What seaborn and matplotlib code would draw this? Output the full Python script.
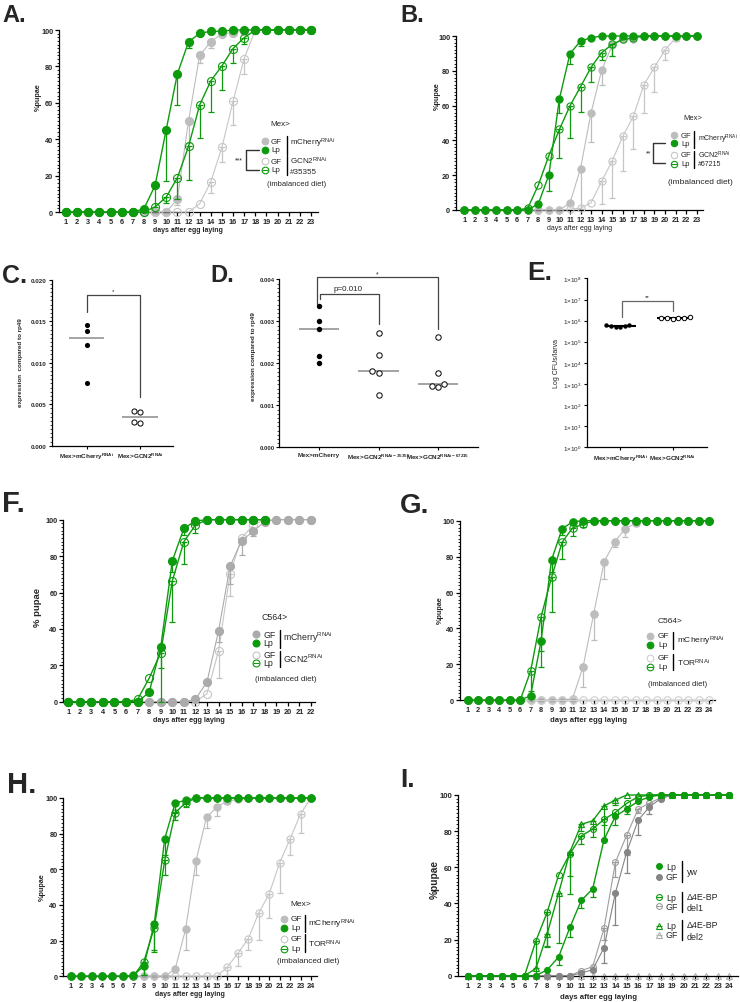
import numpy as np
import pandas as pd
import matplotlib
matplotlib.use("Agg")
import matplotlib.pyplot as plt
from matplotlib.lines import Line2D
from matplotlib.ticker import MultipleLocator, NullLocator
import seaborn as sns

nan = np.nan

# ---------------------------------------------------------------- data
days_A = list(range(1, 24))
A_gf_ctrl    = [0,0,0,0,0,0,0,0,0,0,7,50,86,93.5,98,98.5,99.5,100,100,100,100,100,100]
A_gf_ctrl_sd = [0,0,0,0,0,0,0,0,0,0,3,12,4,3.5,1.5,0,0,0,0,0,0,0,0]
A_lp_ctrl    = [0,0,0,0,0,0,0,1.8,14.6,45.3,75.9,93.4,98.2,99.3,99.3,100,100,100,100,100,100,100,100]
A_lp_ctrl_sd = [0,0,0,0,0,0,0,0,12,28.5,17,3.5,1.5,0,0,0,0,0,0,0,0,0,0]
A_gf_kd      = [0,0,0,0,0,0,0,0,0,0,0,0,4.5,16.5,35.5,60.8,84.3,100,100,100,100,100,100]
A_gf_kd_sd   = [0,0,0,0,0,0,0,0,0,0,0,0,0,6,7.8,13,8.3,0,0,0,0,0,0]
A_lp_kd      = [0,0,0,0,0,0,0,0,2.8,8.2,18.8,36,58.8,72,80.3,89.8,95.8,100,100,100,100,100,100]
A_lp_kd_sd   = [0,0,0,0,0,0,0,0,0,3.2,11.5,18.2,18.3,17.2,13.3,8,3.5,0,0,0,0,0,0]

days_B = list(range(1, 24))
B_gf_ctrl    = [0,0,0,0,0,0,0,0,0,0,4,23.8,56,80.3,94.6,98,98.5,100,100,100,100,100,100]
B_gf_ctrl_sd = [0,0,0,0,0,0,0,0,0,0,0,23,17,8.3,6,0,0,0,0,0,0,0,0]
B_lp_ctrl    = [0,0,0,0,0,0,0,3.5,20,63.8,89.8,97.1,99,100,100,100,100,100,100,100,100,100,100]
B_lp_ctrl_sd = [0,0,0,0,0,0,0,0,9,7.8,5.8,3,1.5,0,0,0,0,0,0,0,0,0,0]
B_gf_kd      = [0,0,0,0,0,0,0,0,0,0,0.5,1,4.2,16.5,28.2,42.3,53.8,72,82,92,98.8,100,100]
B_gf_kd_sd   = [0,0,0,0,0,0,0,0,0,0,0,0,0,13,21.2,19.8,18.8,16.2,14,6,1.5,0,0]
B_lp_kd      = [0,0,0,0,0,0,1,14.2,31.2,46.3,59.8,70.8,82,90.4,95.2,98,99,100,100,100,100,100,100]
B_lp_kd_sd   = [0,0,0,0,0,0,0,0,0,16.3,18.3,14.5,8.2,4.4,6.7,0,0,0,0,0,0,0,0]

C_groups = ["Mex>mCherry$^{RNAi}$", "Mex>GCN2$^{RNAi}$"]
C_ctrl = [0.0145, 0.0138, 0.0121, 0.0076]
C_kd = [0.0042, 0.0041, 0.0029, 0.0027]

D_groups = ["Mex>mCherry", "Mex>GCN2$^{RNAi-35355}$", "Mex>GCN2$^{RNAi-67215}$"]
D_ctrl = [0.00337, 0.00300, 0.00282, 0.00217, 0.00201]
D_kd1 = [0.00272, 0.00220, 0.00182, 0.00178, 0.00125]
D_kd2 = [0.00263, 0.00177, 0.00151, 0.00147, 0.00144]

E_groups = ["Mex>mCherry$^{RNAi}$", "Mex>GCN2$^{RNAi}$"]
E_ctrl = [5.2e5, 6.3e5, 5.8e5, 5.5e5, 5.9e5, 5.0e5]
E_kd = [1.30e6, 1.40e6, 1.35e6, 1.45e6, 1.30e6, 1.25e6]
E_ticks = [1, 10, 100, 1e3, 1e4, 1e5, 1e6, 1e7, 1e8]
E_ticklabels = ["1×10$^{%d}$" % k for k in range(9)]

days_F = list(range(1, 23))
F_gf_ctrl    = [0,0,0,0,0,0,0,0,0,0,0,1.3,10.8,38.8,74.4,88.5,93.6,99,100,100,100,100]
F_gf_ctrl_sd = [0,0,0,0,0,0,0,0,0,0,0,0,0,6,9.6,8,2.6,0,0,0,0,0]
F_lp_ctrl    = [0,0,0,0,0,0,0,5.1,30,77.3,95.2,99.3,100,100,100,100,100,100,nan,nan,nan,nan]
F_lp_ctrl_sd = [0,0,0,0,0,0,0,0,11.5,6,3.6,1,0,0,0,0,0,0,0,0,0,0]
F_gf_kd      = [0,0,0,0,0,0,0,0,0,0,0,0,4.4,27.8,70.3,90,97,100,100,100,100,100]
F_gf_kd_sd   = [0,0,0,0,0,0,0,0,0,0,0,0,0,15,12.4,1.5,0,0,0,0,0,0]
F_lp_kd      = [0,0,0,0,0,0,1.3,12.9,26.9,66.3,87.9,97,100,100,100,100,100,100,nan,nan,nan,nan]
F_lp_kd_sd   = [0,0,0,0,0,0,0,0,26.9,22.7,12.1,4.5,0,0,0,0,0,0,0,0,0,0]

days_G = list(range(1, 25))
G_gf_ctrl    = [0,0,0,0,0,0,0,0,0,0,1,18.7,47.9,77,88.1,95.5,98.5,100,100,100,100,100,100,100]
G_gf_ctrl_sd = [0,0,0,0,0,0,0,0,0,0,0,11.1,14.3,9.3,2.6,4.6,1,0,0,0,0,0,0,0]
G_lp_ctrl    = [0,0,0,0,0,0,2.6,33.2,78.3,95.5,99.4,100,100,100,100,100,100,100,100,100,100,100,100,100]
G_lp_ctrl_sd = [0,0,0,0,0,0,0,14.7,7,3.5,0,0,0,0,0,0,0,0,0,0,0,0,0,0]
G_gf_kd      = [0,0,0,0,0,0,0,0,0,0,0,0,0,0,0,0,0,0,0,0,0,0,0,0]
G_gf_kd_sd   = [0,0,0,0,0,0,0,0,0,0,0,0,0,0,0,0,0,0,0,0,0,0,0,0]
G_lp_kd      = [0,0,0,0,0,0,16.3,46.6,68.6,88,96,98,100,100,100,100,100,100,100,100,100,100,100,100]
G_lp_kd_sd   = [0,0,0,0,0,0,11.3,19.1,19.6,9.5,4.5,1.5,0,0,0,0,0,0,0,0,0,0,0,0]

days_H = list(range(1, 25))
H_gf_ctrl    = [0,0,0,0,0,0,0,0,0,0,4.1,26.4,64.9,89.2,95,98.3,99.2,100,100,100,100,100,100,100]
H_gf_ctrl_sd = [0,0,0,0,0,0,0,0,0,0,0,11.9,7.9,6.2,5.3,1.8,0,0,0,0,0,0,0,0]
H_lp_ctrl    = [0,0,0,0,0,0,0.5,5.8,29.5,77.2,97.2,98.7,100,100,100,100,100,100,100,100,100,100,100,100]
H_lp_ctrl_sd = [0,0,0,0,0,0,0,5,14.5,9,5,2,0,0,0,0,0,0,0,0,0,0,0,0]
H_gf_kd      = [0,0,0,0,0,0,0,0,0,0,0,0,0,0,0,5.2,12.9,21.1,35.5,46.2,63.6,77,91,100]
H_gf_kd_sd   = [0,0,0,0,0,0,0,0,0,0,0,0,0,0,0,4.7,7.1,6.3,15.3,13.5,17.1,9,10.5,0]
H_lp_kd      = [0,0,0,0,0,0,0,8.2,27.3,65,91.8,97.3,100,100,100,100,100,100,100,100,100,100,100,100]
H_lp_kd_sd   = [0,0,0,0,0,0,0,7.7,13.5,8,4.3,2.3,0,0,0,0,0,0,0,0,0,0,0,0]

days_I = list(range(1, 25))
I_yw_lp    = [0,0,0,0,0,0,0,3.3,10.3,26.8,41.7,48,75.3,88.2,92.3,96.5,99,100,100,100,100,100,100,100]
I_yw_lp_sd = [0,0,0,0,0,0,0,0,4.3,5.4,4.4,4.5,0,5,3,0,0,0,0,0,0,0,0,0]
I_yw_gf    = [0,0,0,0,0,0,0,0,0,0,1.5,3.3,15.5,45.8,68.5,86,93.5,98,100,100,100,100,100,100]
I_yw_gf_sd = [0,0,0,0,0,0,0,0,0,0,0,0,8.5,17.8,11.5,8,4,0,0,0,0,0,0,0]
I_d1_lp    = [0,0,0,0,0,0,19.2,35.2,55.7,67.5,77.3,81.2,86.5,90.4,95.4,99,100,100,100,100,100,100,100,100]
I_d1_lp_sd = [0,0,0,0,0,0,19.2,19.2,0,12.5,4.3,4.2,3,0,0,0,0,0,0,0,0,0,0,0]
I_d1_gf    = [0,0,0,0,0,0,0,0,0,0,2.8,5,26.2,62.7,77.8,92.2,95.5,98.5,100,100,100,100,100,100]
I_d1_gf_sd = [0,0,0,0,0,0,0,0,0,0,0,0,6.2,7.9,11,2,2,0,0,0,0,0,0,0]
I_d2_lp    = [0,0,0,0,0,0,4,23.2,45.7,68.5,83.8,85.7,94,97.2,100,100,100,100,100,100,100,100,100,100]
I_d2_lp_sd = [0,0,0,0,0,0,4,7,27.7,23.5,3.8,4.7,18.2,2.5,0,0,0,0,0,0,0,0,0,0]
I_d2_gf    = [0,0,0,0,0,0,0,0,0,0,0,0,0,0,0,0,0,0,0,0,0,0,0,0]
I_d2_gf_sd = [0,0,0,0,0,0,0,0,0,0,0,0,0,0,0,0,0,0,0,0,0,0,0,0]

# ---------------------------------------------------------------- style
sns.set_style("ticks")
plt.rcParams["font.family"] = ["Liberation Sans", "DejaVu Sans"]
plt.rcParams["mathtext.default"] = "regular"
plt.rcParams["axes.linewidth"] = 0.9
plt.rcParams["axes.edgecolor"] = "black"

GREEN = "#0d9b0d"
GF_FILL = "#bdbdbd"
GF_OPEN = "#c6c6c6"

W, H = 740, 1003
fig = plt.figure(figsize=(W / 100, H / 100), dpi=100)
fig.patch.set_facecolor("white")


def fx(x):
    return x / W


def fy(y):
    return 1 - y / H


def add_ax(l, t, r, b):
    return fig.add_axes([fx(l), fy(b), (r - l) / W, (b - t) / H])


def ftext(x, y, s, size=5.8, ha="left", va="center", **kw):
    fig.text(fx(x), fy(y), s, fontsize=size, ha=ha, va=va, **kw)


def fline(xs, ys, lw=1.0, color="black"):
    fig.add_artist(Line2D([fx(v) for v in xs], [fy(v) for v in ys],
                          transform=fig.transFigure, lw=lw, color=color))


def leg_mark(x, y, color, filled, ms=4.8, marker="o", bar=False):
    fig.add_artist(Line2D([fx(x)], [fy(y)], transform=fig.transFigure, ls="none",
                          marker=marker, ms=ms, mfc=color if filled else "none",
                          mec=color, mew=0.8))
    if bar:
        fig.add_artist(Line2D([fx(x)], [fy(y)], transform=fig.transFigure, ls="none",
                              marker="_", ms=ms * 0.9, mec=color, mew=0.8))


def panel_label(x, y, s, size):
    fig.text(fx(x), fy(y), s, fontsize=size, fontweight="bold", ha="left", va="baseline")


def series(ax, days, vals, sd, color, filled, ms, lw, z, marker="o", mew=0.8):
    d = np.asarray(days, float)
    v = np.asarray(vals, float)
    e = np.asarray(sd, float)
    m = e > 0
    if m.any():
        ax.errorbar(d[m], v[m], yerr=[e[m], np.zeros(int(m.sum()))], fmt="none",
                    ecolor=color, elinewidth=0.9, capsize=2.4, capthick=0.9,
                    clip_on=False, zorder=z)
    ok = ~np.isnan(v)
    sns.lineplot(x=d[ok], y=v[ok], ax=ax, color=color, linewidth=lw, marker=marker,
                 markersize=ms, markerfacecolor=color if filled else "none",
                 markeredgecolor=color, markeredgewidth=mew, errorbar=None,
                 clip_on=False, zorder=z + 0.5, legend=False)


def fmt_curve(ax, xlim, days, tsize=5.3):
    ax.set_xlim(*xlim)
    ax.set_ylim(0, 100)
    ax.set_xticks(days, labels=[str(d) for d in days], fontsize=tsize, fontweight="bold")
    ax.set_yticks([0, 20, 40, 60, 80, 100], labels=["0", "20", "40", "60", "80", "100"],
                  fontsize=tsize, fontweight="bold")
    ax.yaxis.set_minor_locator(MultipleLocator(2))
    ax.xaxis.set_minor_locator(NullLocator())
    ax.tick_params(which="major", length=3, width=0.9, pad=1.2, direction="out", color="black")
    ax.tick_params(axis="y", which="minor", length=1.6, width=0.6, color="black")
    sns.despine(ax=ax)


def set_labels(ax, xl, xpos, xsize, yl, ypos, ysize, xbold=True, ybold=True):
    ax.set_xlabel(xl, fontsize=xsize, fontweight="bold" if xbold else "normal")
    ax.xaxis.set_label_coords(fx(xpos[0]), fy(xpos[1]), transform=fig.transFigure)
    ax.xaxis.label.set_va("center")
    ax.set_ylabel(yl, fontsize=ysize, fontweight="bold" if ybold else "normal")
    ax.yaxis.set_label_coords(fx(ypos[0]), fy(ypos[1]), transform=fig.transFigure)
    ax.yaxis.label.set_va("center")
    ax.yaxis.label.set_ha("center")


def std_legend(x_m, x_t, x_b, x_l, title, title_xy, y1, y2, y3, y4, bar1, bar2,
               lab1, lab1_y, lab2, lab2_y, c_gf1, c_gf2, diet_xy, size, ms,
               lab3=None, lab3_y=None, diet_size=None, lab_size=None):
    ls = lab_size or size
    ftext(title_xy[0], title_xy[1], title, size)
    leg_mark(x_m, y1, c_gf1, True, ms)
    ftext(x_t, y1, "GF", size)
    leg_mark(x_m, y2, GREEN, True, ms)
    ftext(x_t, y2, "Lp", size)
    fline([x_b, x_b], bar1)
    ftext(x_l, lab1_y, lab1, ls)
    leg_mark(x_m, y3, c_gf2, False, ms)
    ftext(x_t, y3, "GF", size)
    leg_mark(x_m, y4, GREEN, False, ms, bar=True)
    ftext(x_t, y4, "Lp", size)
    fline([x_b, x_b], bar2)
    ftext(x_l, lab2_y, lab2, ls)
    if lab3 is not None:
        ftext(x_l, lab3_y, lab3, ls)
    ftext(diet_xy[0], diet_xy[1], "(imbalanced diet)", diet_size or size)


# ---------------------------------------------------------------- panel A
axA = add_ax(59, 31, 318, 213)
series(axA, days_A, A_gf_ctrl, A_gf_ctrl_sd, GF_FILL, True, 5.8, 0.8, 2)
series(axA, days_A, A_gf_kd, A_gf_kd_sd, GF_OPEN, False, 5.8, 0.8, 3)
series(axA, days_A, A_lp_kd, A_lp_kd_sd, GREEN, False, 5.8, 1.0, 4)
series(axA, days_A, A_lp_ctrl, A_lp_ctrl_sd, GREEN, True, 5.8, 1.0, 5)
fmt_curve(axA, (0.37, 23.63), days_A)
set_labels(axA, "days after egg laying", (188, 231), 5.0, "%pupae", (38, 97), 5.2)
panel_label(2, 22, "A.", 17)
std_legend(265, 271, 287, 290, "Mex>", (270, 124), 142, 150.5, 162, 171,
           [137, 156], [157, 176], r"mCherry$^{RNAi}$", 143.5, r"GCN2$^{RNAi}$", 161,
           GF_FILL, GF_OPEN, (267, 184), 5.8, 4.8, lab3="#35355", lab3_y=172, diet_size=5.5)
fline([259, 245.5, 245.5, 259], [150.5, 150.5, 171, 171], lw=1.0, color="#333333")
ftext(243, 161, "***", 5, ha="right")

# ---------------------------------------------------------------- panel B
axB = add_ax(456, 37, 703, 211)
series(axB, days_B, B_gf_ctrl, B_gf_ctrl_sd, GF_FILL, True, 5.2, 0.8, 2)
series(axB, days_B, B_gf_kd, B_gf_kd_sd, GF_OPEN, False, 5.2, 0.8, 3)
series(axB, days_B, B_lp_kd, B_lp_kd_sd, GREEN, False, 5.2, 1.0, 4)
series(axB, days_B, B_lp_ctrl, B_lp_ctrl_sd, GREEN, True, 5.2, 1.0, 5)
fmt_curve(axB, (0.21, 23.6), days_B)
set_labels(axB, "days after egg laying", (580, 229), 5.0, "%pupae", (437, 96), 5.2, xbold=False)
panel_label(400, 22, "B.", 17)
std_legend(674, 681, 694, 698, "Mex>", (683, 118), 136, 144, 155.7, 164.7,
           [132, 149], [151.5, 168.5], r"mCherry$^{RNAi}$", 139, r"GCN2$^{RNAi}$", 155,
           GF_FILL, GF_OPEN, (668, 183), 5.5, 4.6, lab3="#67215", lab3_y=165, diet_size=6,
           lab_size=5.0)
fline([665, 652.7, 652.7, 665], [144, 144, 164, 164], lw=1.0, color="#333333")
ftext(651, 154, "**", 5, ha="right")

# ---------------------------------------------------------------- panel C
axC = add_ax(52, 280.7, 173, 446.7)
dfC = pd.DataFrame({"group": [C_groups[0]] * len(C_ctrl) + [C_groups[1]] * len(C_kd),
                    "value": C_ctrl + C_kd})
n0 = len(axC.collections)
sns.swarmplot(data=dfC[dfC.group == C_groups[0]], x="group", y="value", order=C_groups,
              color="black", size=3.7, ax=axC)
for c in axC.collections[n0:]:
    c.set_facecolor("black"); c.set_edgecolor("black"); c.set_linewidth(0)
n0 = len(axC.collections)
sns.swarmplot(data=dfC[dfC.group == C_groups[1]], x="group", y="value", order=C_groups,
              color="black", size=3.7, ax=axC)
for c in axC.collections[n0:]:
    c.set_facecolor("white"); c.set_edgecolor("black"); c.set_linewidth(0.7)
for i, vals in enumerate([C_ctrl, C_kd]):
    axC.hlines(np.median(vals), i - 0.33, i + 0.33, color="#8a8a8a", lw=1.1, zorder=1)
axC.set_xlim(-0.65, 1.62)
axC.set_ylim(0, 0.020)
axC.set_yticks([0, 0.005, 0.010, 0.015, 0.020],
               labels=["0.000", "0.005", "0.010", "0.015", "0.020"], fontsize=4.5, fontweight="bold")
axC.set_xticks([0, 1], labels=C_groups, fontsize=4.6, fontweight="bold")
axC.yaxis.set_minor_locator(MultipleLocator(0.0005))
axC.tick_params(which="major", length=2.5, width=0.8, pad=1.2, color="black")
axC.tick_params(axis="y", which="minor", length=1.3, width=0.5, color="black")
sns.despine(ax=axC)
set_labels(axC, "", (112, 460), 4.6, "expression  compared to rp49", (21, 363), 4.5)
axC.plot([0, 0, 1, 1], [0.0161, 0.0181, 0.0181, 0.0059], color="#444444", lw=0.9, clip_on=False)
axC.text(0.5, 0.0187, "*", ha="center", va="center", fontsize=4.5)
panel_label(2, 283, "C.", 18)

# ---------------------------------------------------------------- panel D
axD = add_ax(279.3, 280.3, 478, 448.3)
D_sets = [D_ctrl, D_kd1, D_kd2]
dfD = pd.DataFrame({"group": sum([[g] * len(v) for g, v in zip(D_groups, D_sets)], []),
                    "value": sum(D_sets, [])})
for gi, g in enumerate(D_groups):
    n0 = len(axD.collections)
    sns.swarmplot(data=dfD[dfD.group == g], x="group", y="value", order=D_groups,
                  color="black", size=3.9, ax=axD)
    for c in axD.collections[n0:]:
        if gi == 0:
            c.set_facecolor("black"); c.set_edgecolor("black"); c.set_linewidth(0)
        else:
            c.set_facecolor("white"); c.set_edgecolor("black"); c.set_linewidth(0.7)
for i, vals in enumerate(D_sets):
    axD.hlines(np.median(vals), i - 0.34, i + 0.34, color="#8a8a8a", lw=1.1, zorder=1)
axD.set_xlim(-0.67, 2.67)
axD.set_ylim(0, 0.004)
axD.set_yticks([0, 0.001, 0.002, 0.003, 0.004],
               labels=["0.000", "0.001", "0.002", "0.003", "0.004"], fontsize=4.2, fontweight="bold")
axD.set_xticks([0, 1, 2], labels=D_groups, fontsize=4.6, fontweight="bold")
axD.yaxis.set_minor_locator(MultipleLocator(0.0001))
axD.tick_params(which="major", length=2.5, width=0.8, pad=1.0, color="black")
axD.tick_params(axis="y", which="minor", length=1.3, width=0.5, color="black")
sns.despine(ax=axD)
set_labels(axD, "", (380, 462), 4.6, "expression compared to rp49", (254, 357), 4.6)
axD.plot([-0.04, -0.04, 2.0, 2.0], [0.00341, 0.004055, 0.004055, 0.00282],
         color="#444444", lw=0.9, clip_on=False)
axD.plot([0.02, 0.02, 1.0, 1.0], [0.00353, 0.00365, 0.00365, 0.00294],
         color="#444444", lw=0.9, clip_on=False)
axD.text(0.97, 0.00413, "*", ha="center", va="center", fontsize=5)
axD.text(0.48, 0.00377, "p=0.010", ha="center", va="center", fontsize=5.8)
panel_label(210, 282, "D.", 17)

# ---------------------------------------------------------------- panel E
axE = add_ax(586.7, 279.4, 706.7, 448.3)
axE.set_yscale("log")
dfE = pd.DataFrame({"group": [E_groups[0]] * len(E_ctrl) + [E_groups[1]] * len(E_kd),
                    "value": E_ctrl + E_kd})
for gi, g in enumerate(E_groups):
    n0 = len(axE.collections)
    sns.swarmplot(data=dfE[dfE.group == g], x="group", y="value", order=E_groups,
                  color="black", size=3.2, ax=axE)
    for c in axE.collections[n0:]:
        if gi == 0:
            c.set_facecolor("black"); c.set_edgecolor("black"); c.set_linewidth(0)
        else:
            c.set_facecolor("white"); c.set_edgecolor("black"); c.set_linewidth(0.7)
for i, vals in enumerate([E_ctrl, E_kd]):
    axE.hlines(np.median(vals), i - 0.3, i + 0.3, color="black", lw=1.5, zorder=1)
axE.set_xlim(-0.64, 1.65)
axE.set_ylim(1, 1e8)
axE.set_yticks(E_ticks, labels=E_ticklabels, fontsize=4.6)
axE.yaxis.set_minor_locator(NullLocator())
axE.set_xticks([0, 1], labels=E_groups, fontsize=4.6, fontweight="bold")
axE.tick_params(which="major", length=2.5, width=0.8, pad=1.2, color="black")
sns.despine(ax=axE)
set_labels(axE, "", (646, 462), 4.6, "Log CFUs/larva", (556.7, 364), 5.0, ybold=False)
axE.plot([0.04, 0.04, 1.0, 1.0], [1.55e6, 8.3e6, 8.3e6, 2.97e6],
         color="#666666", lw=0.9, clip_on=False)
axE.text(0.52, 1.35e7, "**", ha="center", va="center", fontsize=4.5)
panel_label(527, 280, "E.", 19)

# ---------------------------------------------------------------- panel F
F_GRAY = "#ababab"
axF = add_ax(63.3, 520.7, 315, 702.7)
series(axF, days_F, F_gf_kd, F_gf_kd_sd, GF_OPEN, False, 5.8, 0.8, 2)
series(axF, days_F, F_gf_ctrl, F_gf_ctrl_sd, F_GRAY, True, 5.8, 0.8, 3)
series(axF, days_F, F_lp_kd, F_lp_kd_sd, GREEN, False, 5.8, 1.0, 4)
series(axF, days_F, F_lp_ctrl, F_lp_ctrl_sd, GREEN, True, 5.8, 1.0, 5)
fmt_curve(axF, (0.57, 22.35), days_F)
set_labels(axF, "days after egg laying", (189, 721), 5.2, "% pupae", (38, 608), 6.8)
panel_label(2, 512, "F.", 21)
std_legend(256, 263, 280, 283, "C564>", (261, 617), 635, 644, 656, 663.5,
           [631, 649], [652, 668], r"mCherry$^{RNAi}$", 638, r"GCN2$^{RNAi}$", 659,
           F_GRAY, GF_OPEN, (255, 680), 6.3, 5.0, diet_size=5.8)

# ---------------------------------------------------------------- panel G
axG = add_ax(460, 521.7, 715, 701.3)
series(axG, days_G, G_gf_ctrl, G_gf_ctrl_sd, GF_FILL, True, 5.4, 0.8, 2)
series(axG, days_G, G_gf_kd, G_gf_kd_sd, "#d0d0d0", False, 5.4, 0.8, 3)
series(axG, days_G, G_lp_kd, G_lp_kd_sd, GREEN, False, 5.4, 1.0, 4)
series(axG, days_G, G_lp_ctrl, G_lp_ctrl_sd, GREEN, True, 5.4, 1.0, 5)
fmt_curve(axG, (0.27, 24.57), days_G)
set_labels(axG, "days after egg laying", (588, 720), 5.6, "%pupae", (440, 610), 5.2)
panel_label(400, 513, "G.", 20)
std_legend(650, 658, 672.7, 676.7, "C564>", (658, 622), 637, 646, 659, 667.5,
           [633, 650], [655, 671], r"mCherry$^{RNAi}$", 641, r"TOR$^{RNAi}$", 663,
           GF_FILL, "#d0d0d0", (648, 684), 6.0, 4.8, diet_size=5.5)

# ---------------------------------------------------------------- panel H
axH = add_ax(63.3, 799, 316.7, 977.3)
series(axH, days_H, H_gf_ctrl, H_gf_ctrl_sd, GF_FILL, True, 5.2, 0.8, 2)
series(axH, days_H, H_gf_kd, H_gf_kd_sd, GF_OPEN, False, 5.2, 0.8, 3)
series(axH, days_H, H_lp_kd, H_lp_kd_sd, GREEN, False, 5.2, 1.0, 4)
series(axH, days_H, H_lp_ctrl, H_lp_ctrl_sd, GREEN, True, 5.2, 1.0, 5)
fmt_curve(axH, (0.29, 24.55), days_H)
set_labels(axH, "days after egg laying", (190, 995), 5.0, "%pupae", (42.7, 887), 5.2)
panel_label(7, 793, "H.", 21)
std_legend(284.3, 291, 305, 308, "Mex>", (290, 905), 920, 929, 939.5, 949.5,
           [916, 933], [935, 953], r"mCherry$^{RNAi}$", 924, r"TOR$^{RNAi}$", 944.7,
           GF_FILL, GF_OPEN, (277, 962), 6.0, 4.8, diet_size=5.9)

# ---------------------------------------------------------------- panel I
YW_GF = "#858585"
D1_GF = "#9e9e9e"
D2_GF = "#b0b0b0"
axI = add_ax(458.3, 796, 737.7, 976.7)
series(axI, days_I, I_d2_gf, I_d2_gf_sd, D2_GF, False, 4.6, 0.8, 2, marker="^")
series(axI, days_I, I_d1_gf, I_d1_gf_sd, D1_GF, False, 4.3, 0.8, 3)
series(axI, days_I, I_yw_gf, I_yw_gf_sd, YW_GF, True, 4.3, 0.8, 4)
series(axI, days_I, I_d2_lp, I_d2_lp_sd, GREEN, False, 4.6, 1.0, 5, marker="^")
series(axI, days_I, I_d1_lp, I_d1_lp_sd, GREEN, False, 4.3, 1.0, 6)
series(axI, days_I, I_yw_lp, I_yw_lp_sd, GREEN, True, 4.3, 1.0, 7)
fmt_curve(axI, (0.17, 24.77), days_I, tsize=5.6)
set_labels(axI, "days after egg laying", (598.5, 998), 5.6, "%pupae", (435, 880), 7.3)
panel_label(400, 787, "I.", 19)
IS = 6.4
leg_mark(659.3, 867.3, GREEN, True, 4.2); ftext(666, 867.3, "Lp", IS)
leg_mark(659.3, 877.7, YW_GF, True, 4.2); ftext(666, 877.7, "GF", IS)
fline([681.7, 681.7], [862, 883])
ftext(686.7, 872.3, "yw", IS)
leg_mark(659.3, 898.3, GREEN, False, 4.2, bar=True); ftext(666, 898.3, "Lp", IS)
leg_mark(659.3, 907.3, D1_GF, False, 4.2, bar=True); ftext(666, 907.3, "GF", IS)
fline([681.7, 681.7], [893, 913])
ftext(686.7, 897.7, "Δ4E-BP", IS); ftext(686.7, 909, "del1", IS)
leg_mark(659.3, 926.7, GREEN, False, 4.6, marker="^", bar=True); ftext(666, 926.7, "Lp", IS)
leg_mark(659.3, 936, D2_GF, False, 4.6, marker="^", bar=True); ftext(666, 936, "GF", IS)
fline([681.7, 681.7], [921, 941])
ftext(686.7, 926, "Δ4E-BP", IS); ftext(686.7, 937.7, "del2", IS)

fig.savefig("out.png", dpi=100, facecolor="white")
